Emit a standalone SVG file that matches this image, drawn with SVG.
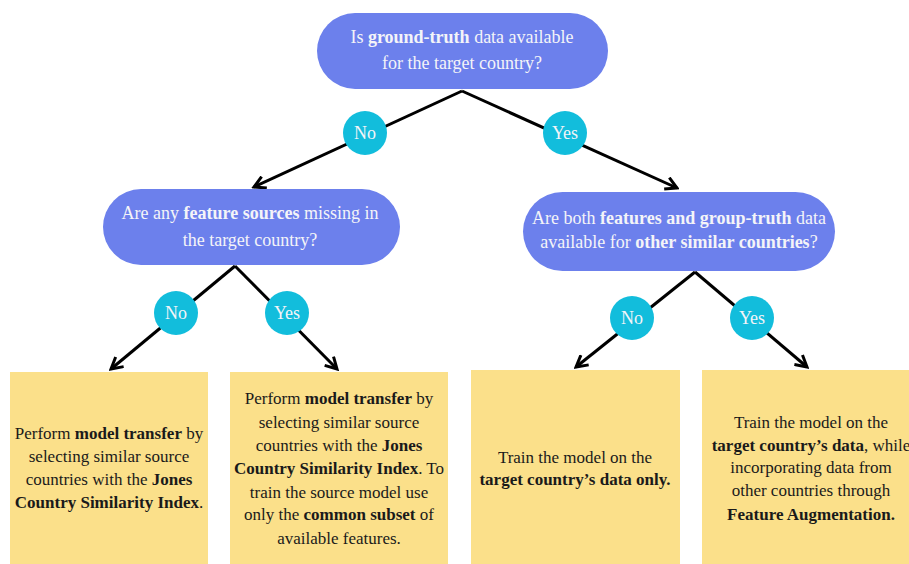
<svg xmlns="http://www.w3.org/2000/svg" width="909" height="564" viewBox="0 0 909 564" font-family="Liberation Serif, serif">
<defs>
<marker id="ah" viewBox="0 0 12 12" refX="10" refY="6" markerWidth="5" markerHeight="5" orient="auto" markerUnits="strokeWidth">
<polyline points="1,1 10,6 1,11" fill="none" stroke="#000" stroke-width="2.4"/>
</marker>
</defs>
<rect width="909" height="564" fill="#fff"/>
<g id="connectors" stroke="#000" stroke-width="3" fill="none" marker-end="url(#ah)">
<line x1="462" y1="91" x2="254" y2="187"/>
<line x1="462" y1="91" x2="677" y2="188"/>
<line x1="235" y1="266" x2="111" y2="369"/>
<line x1="235" y1="266" x2="337" y2="369"/>
<line x1="695" y1="272" x2="576" y2="367"/>
<line x1="695" y1="272" x2="807" y2="367"/>
</g>
<g font-family="Liberation Serif" font-size="18" text-anchor="middle">
<g id="q1">
<rect x="317" y="13" width="291" height="76" rx="38" fill="#6c80ec"/>
<text x="462" y="43" fill="#f4f4f8">Is <tspan font-weight="bold">ground-truth</tspan> data available</text>
<text x="462" y="69" fill="#f4f4f8">for the target country?</text>
</g>
<g id="q2">
<rect x="103" y="189" width="297" height="76" rx="38" fill="#6c80ec"/>
<text x="250" y="219" fill="#f4f4f8">Are any <tspan font-weight="bold">feature sources</tspan> missing in</text>
<text x="250" y="246" fill="#f4f4f8">the target country?</text>
</g>
<g id="q3">
<rect x="523" y="192" width="312" height="79" rx="39.5" fill="#6c80ec"/>
<text x="679" y="224" fill="#f4f4f8">Are both <tspan font-weight="bold">features and group-truth</tspan> data</text>
<text x="679" y="248" fill="#f4f4f8">available for <tspan font-weight="bold">other similar countries</tspan>?</text>
</g>
<g id="l1"><circle cx="365" cy="133" r="22" fill="#12bddc"/><text x="365" y="139" fill="#f4f4f8">No</text></g>
<g id="l2"><circle cx="565" cy="133" r="22" fill="#12bddc"/><text x="565" y="139" fill="#f4f4f8">Yes</text></g>
<g id="l3"><circle cx="176" cy="313" r="22" fill="#12bddc"/><text x="176" y="319" fill="#f4f4f8">No</text></g>
<g id="l4"><circle cx="287" cy="313" r="22" fill="#12bddc"/><text x="287" y="319" fill="#f4f4f8">Yes</text></g>
<g id="l5"><circle cx="632" cy="318" r="22" fill="#12bddc"/><text x="632" y="324" fill="#f4f4f8">No</text></g>
<g id="l6"><circle cx="752" cy="318" r="22" fill="#12bddc"/><text x="752" y="324" fill="#f4f4f8">Yes</text></g>
</g>
<g font-family="Liberation Serif" font-size="17" text-anchor="middle" fill="#1a1a1a">
<g id="a1">
<rect x="10" y="372" width="198" height="200" fill="#fbe08a"/>
<text x="109" y="439">Perform <tspan font-weight="bold">model transfer</tspan> by</text>
<text x="109" y="462">selecting similar source</text>
<text x="109" y="485">countries with the <tspan font-weight="bold">Jones</tspan></text>
<text x="109" y="508"><tspan font-weight="bold">Country Similarity Index</tspan>.</text>
</g>
<g id="a2">
<rect x="230" y="372" width="218" height="200" fill="#fbe08a"/>
<text x="339" y="404">Perform <tspan font-weight="bold">model transfer</tspan> by</text>
<text x="339" y="428">selecting similar source</text>
<text x="339" y="451">countries with the <tspan font-weight="bold">Jones</tspan></text>
<text x="339" y="474"><tspan font-weight="bold">Country Similarity Index</tspan>. To</text>
<text x="339" y="498">train the source model use</text>
<text x="339" y="520">only the <tspan font-weight="bold">common subset</tspan> of</text>
<text x="339" y="544">available features.</text>
</g>
<g id="a3">
<rect x="471" y="370" width="209" height="200" fill="#fbe08a"/>
<text x="575" y="463">Train the model on the</text>
<text x="575" y="485" font-weight="bold">target country’s data only.</text>
</g>
<g id="a4">
<rect x="702" y="370" width="220" height="200" fill="#fbe08a"/>
<text x="811" y="428">Train the model on the</text>
<text x="811" y="451"><tspan font-weight="bold">target country’s data</tspan>, while</text>
<text x="811" y="473">incorporating data from</text>
<text x="811" y="496">other countries through</text>
<text x="811" y="520" font-weight="bold">Feature Augmentation.</text>
</g>
</g>
</svg>
